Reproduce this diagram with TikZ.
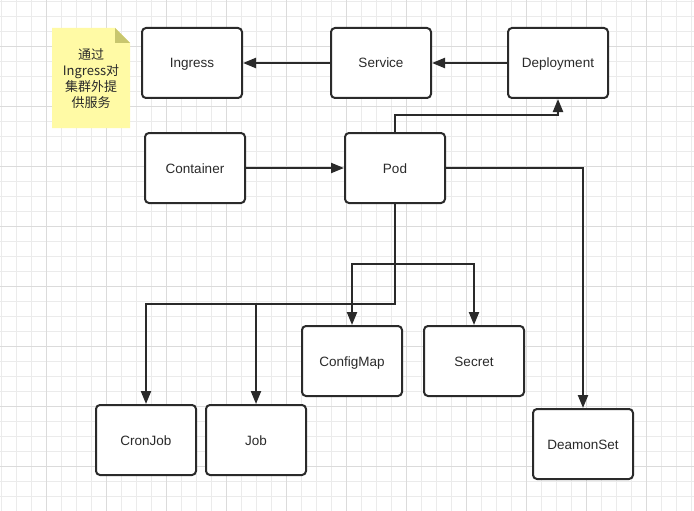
\documentclass[tikz,border=0pt]{standalone}
\usepackage{fontspec}
\setmainfont{Liberation Sans}
\newfontfamily\cjk{Noto Sans CJK SC}
\usetikzlibrary{arrows.meta}
\definecolor{linec}{HTML}{2A2A2A}
\definecolor{notefill}{RGB}{255,250,165}
\definecolor{notefold}{RGB}{200,198,110}
\begin{document}
\begin{tikzpicture}[x=1pt, y=-1pt,
    box/.style={draw=linec, line width=2pt, rounded corners=4pt, fill=white,
      minimum width=100pt, minimum height=70pt, inner sep=0pt,
      text height=10pt, text depth=0pt,
      font=\fontsize{13.5}{16}\selectfont, text=linec},
    conn/.style={draw=linec, line width=2.2pt, -{Triangle[length=13pt,width=10pt]}},
    minorgrid/.style={draw={rgb:black,1;white,12}, line width=0.8pt},
    majorgrid/.style={draw={rgb:black,1;white,6}, line width=0.8pt}]
  \useasboundingbox (0,0) rectangle (694,511);
  \fill[white] (0,0) rectangle (694,511);
  % grid
  \foreach \i in {0,...,46} \draw[minorgrid] (1.7+15*\i,0) -- (1.7+15*\i,511);
  \foreach \j in {0,...,33} \draw[minorgrid] (0,1.7+15*\j) -- (694,1.7+15*\j);
  \foreach \i in {0,...,10} \draw[majorgrid] (46.7+60*\i,0) -- (46.7+60*\i,511);
  \foreach \j in {0,...,7} \draw[majorgrid] (0,46.7+60*\j) -- (694,46.7+60*\j);
  % note
  \fill[notefill] (52,28) -- (115,28) -- (130,43) -- (130,128) -- (52,128) -- cycle;
  \fill[notefold] (115,28) -- (130,43) -- (115,43) -- cycle;
  \node[align=center, text=linec, font=\cjk\fontsize{13}{16}\selectfont] (note) at (91,79)
    {通过\\Ingress对\\集群外提\\供服务};
  % boxes
  \node[box] (ingress) at (192,63) {Ingress};
  \node[box] (service) at (381,63) {Service};
  \node[box] (deployment) at (558,63) {Deployment};
  \node[box] (container) at (195,168) {Container};
  \node[box] (pod) at (395,168) {Pod};
  \node[box] (configmap) at (352,361) {ConfigMap};
  \node[box] (secret) at (474,361) {Secret};
  \node[box] (cronjob) at (146,440) {CronJob};
  \node[box] (job) at (256,440) {Job};
  \node[box] (deamonset) at (583,444) {DeamonSet};
  \coordinate (midsplit) at (395,264);
  \coordinate (lowsplit) at (395,304);
  % connectors
  \draw[conn] (service) -- (ingress);
  \draw[conn] (deployment) -- (service);
  \draw[conn] (container) -- (pod);
  \draw[conn] (pod.north) -- ++(0,-17) -| (deployment.south);
  \draw[conn] (pod.east) -| (deamonset.north);
  \draw[conn] (pod.south) -- (midsplit) -| (configmap.north);
  \draw[conn] (pod.south) -- (midsplit) -| (secret.north);
  \draw[conn] (pod.south) -- (lowsplit) -| (cronjob.north);
  \draw[conn] (pod.south) -- (lowsplit) -| (job.north);
\end{tikzpicture}
\end{document}
